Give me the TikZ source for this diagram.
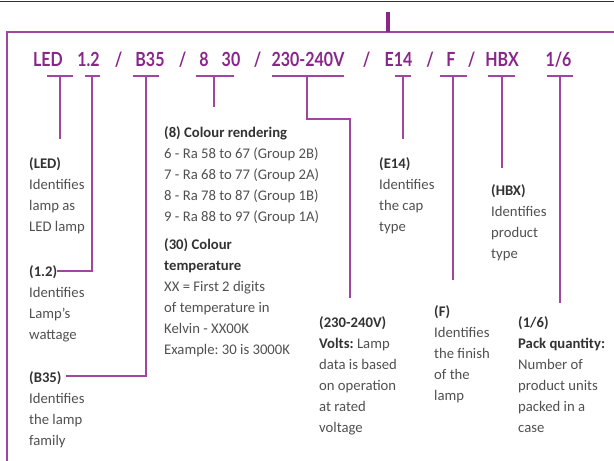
\documentclass[tikz,border=0pt]{standalone}
\usepackage{fontspec}
\usepackage{graphicx}
\setmainfont{Carlito}
\newfontfamily\codefamily{Lato}
\frenchspacing
\definecolor{codec}{RGB}{138,38,138}
\definecolor{lnc}{RGB}{160,70,160}
\definecolor{bodyc}{RGB}{80,80,80}
\definecolor{headc}{RGB}{50,50,50}
\definecolor{topc}{RGB}{50,50,50}
\newcommand{\bodyfont}{\fontsize{14.7}{21}\selectfont}
\newcommand{\hd}[1]{\textbf{\color{headc}#1}}
\newcommand{\blkbox}[1]{\parbox[t]{160pt}{\raggedright #1}}
\newcommand{\cd}[1]{\scalebox{0.82}[1]{#1}}
\tikzset{
  ln/.style={draw=lnc, line width=1.4pt},
  code/.style={text=codec, font=\codefamily\bfseries\fontsize{19.5}{20}\selectfont, anchor=base, inner sep=0pt},
  blk/.style={text=bodyc, font=\bodyfont, anchor=base west, inner sep=0pt},
}
\begin{document}
\begin{tikzpicture}[x=1pt,y=-1pt]
\useasboundingbox (0,0) rectangle (614,461);
% top rule
\coordinate (r1) at (0,1.5); \coordinate (r2) at (614,1.5);
\draw[topc, line width=1.6pt] (r1) -- (r2);
% frame and tick
\coordinate (f1) at (7,461); \coordinate (f2) at (7,32); \coordinate (f3) at (614,32);
\draw[ln] (f1) -- (f2) -- (f3);
\coordinate (k1) at (388,12); \coordinate (k2) at (388,32);
\draw[draw=codec, line width=3.6pt] (k1) -- (k2);
% code tokens
\node[code] (cLED) at (48,66) {\cd{LED}};
\node[code] (c12) at (88.5,66) {\cd{1.2}};
\node[code] (s1) at (118.5,66) {\cd{/}};
\node[code] (cB35) at (150,66) {\cd{B35}};
\node[code] (s2) at (182.5,66) {\cd{/}};
\node[code] (c8) at (204,66) {\cd{8}};
\node[code] (c30) at (231,66) {\cd{30}};
\node[code] (s3) at (257.5,66) {\cd{/}};
\node[code] (cV) at (308,66) {\cd{230-240V}};
\node[code] (s4) at (366.5,66) {\cd{/}};
\node[code] (cE) at (398.5,66) {\cd{E14}};
\node[code] (s5) at (430,66) {\cd{/}};
\node[code] (cF) at (451,66) {\cd{F}};
\node[code] (s6) at (471.5,66) {\cd{/}};
\node[code] (cH) at (502,66) {\cd{HBX}};
\node[code] (cP) at (558.5,66) {\cd{1/6}};
% connectors
\coordinate (a1) at (47,76); \coordinate (a2) at (73,76); \coordinate (a3) at (60,76); \coordinate (a4) at (60,139);
\draw[ln] (a1) -- (a2) (a3) -- (a4);
\coordinate (b1) at (85,76); \coordinate (b2) at (100,76); \coordinate (b3) at (92,76); \coordinate (b4) at (92,271); \coordinate (b5) at (57,271);
\draw[ln] (b1) -- (b2) (b3) -- (b4) -- (b5);
\coordinate (c1) at (133,76); \coordinate (c2) at (159,76); \coordinate (c3) at (146,76); \coordinate (c4) at (146,376); \coordinate (c5) at (66,376);
\draw[ln] (c1) -- (c2) (c3) -- (c4) -- (c5);
\coordinate (d1) at (196,76); \coordinate (d2) at (234,76); \coordinate (d3) at (214,76); \coordinate (d4) at (214,107);
\draw[ln] (d1) -- (d2) (d3) -- (d4);
\coordinate (e1) at (272,76); \coordinate (e2) at (344,76); \coordinate (e3) at (307,76); \coordinate (e4) at (307,119); \coordinate (e5) at (350,119); \coordinate (e6) at (350,298);
\draw[ln] (e1) -- (e2) (e3) -- (e4) -- (e5) -- (e6);
\coordinate (g1) at (395,76); \coordinate (g2) at (411,76); \coordinate (g3) at (403,76); \coordinate (g4) at (403,139);
\draw[ln] (g1) -- (g2) (g3) -- (g4);
\coordinate (h1) at (440,76); \coordinate (h2) at (467,76); \coordinate (h3) at (453,76); \coordinate (h4) at (453,280);
\draw[ln] (h1) -- (h2) (h3) -- (h4);
\coordinate (i1) at (488,76); \coordinate (i2) at (515,76); \coordinate (i3) at (502,76); \coordinate (i4) at (502,168);
\draw[ln] (i1) -- (i2) (i3) -- (i4);
\coordinate (j1) at (547,76); \coordinate (j2) at (573,76); \coordinate (j3) at (560,76); \coordinate (j4) at (560,303);
\draw[ln] (j1) -- (j2) (j3) -- (j4);
% text blocks
\node[blk] (tLED) at (29,168) {\blkbox{\hd{(LED)}\\Identifies\\lamp as\\LED lamp}};
\node[blk] (t12) at (29,276) {\blkbox{\hd{(1.2)}\\Identifies\\Lamp’s\\wattage}};
\node[blk] (tB35) at (29,382) {\blkbox{\hd{(B35)}\\Identifies\\the lamp\\family}};
\node[blk] (t8) at (164,137) {\blkbox{\hd{(8) Colour rendering}\\6 - Ra 58 to 67 (Group 2B)\\7 - Ra 68 to 77 (Group 2A)\\8 - Ra 78 to 87 (Group 1B)\\9 - Ra 88 to 97 (Group 1A)}};
\node[blk] (t30) at (164,249) {\blkbox{\hd{(30) Colour}\\\hd{temperature}\\XX = First 2 digits\\of temperature in\\Kelvin - XX00K\\Example: 30 is 3000K}};
\node[blk] (tV) at (319,327) {\blkbox{\hd{(230-240V)}\\\hd{Volts:} Lamp\\data is based\\on operation\\at rated\\voltage}};
\node[blk] (tE) at (379,168) {\blkbox{\hd{(E14)}\\Identifies\\the cap\\type}};
\node[blk] (tF) at (434,316) {\blkbox{\hd{(F)}\\Identifies\\the finish\\of the\\lamp}};
\node[blk] (tH) at (491,195) {\blkbox{\hd{(HBX)}\\Identifies\\product\\type}};
\node[blk] (tP) at (518,327) {\blkbox{\hd{(1/6)}\\\hd{Pack quantity:}\\Number of\\product units\\packed in a\\case}};
\end{tikzpicture}
\end{document}
